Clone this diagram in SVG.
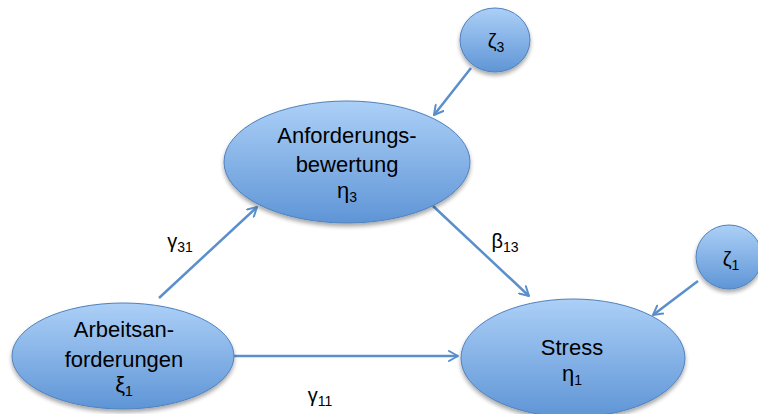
<svg xmlns="http://www.w3.org/2000/svg" width="758" height="414" viewBox="0 0 758 414">
  <defs>
    <linearGradient id="nodeFill" x1="0" y1="0" x2="0" y2="1">
      <stop offset="0" stop-color="#acd0f7"/>
      <stop offset="1" stop-color="#5f95d6"/>
    </linearGradient>
    <filter id="shadow" x="-20%" y="-20%" width="140%" height="150%">
      <feGaussianBlur in="SourceAlpha" stdDeviation="2"/>
      <feOffset dx="0" dy="2.5" result="b"/>
      <feComponentTransfer><feFuncA type="linear" slope="0.35"/></feComponentTransfer>
      <feMerge><feMergeNode/><feMergeNode in="SourceGraphic"/></feMerge>
    </filter>
    <marker id="arrow" viewBox="0 0 12 12" refX="10" refY="6" markerWidth="12" markerHeight="12" markerUnits="userSpaceOnUse" orient="auto">
      <path d="M1,1 L10,6 L1,11" fill="none" stroke="#5a8fcb" stroke-width="2" stroke-linecap="round" stroke-linejoin="round"/>
    </marker>
  </defs>
  <style>
    .node { fill: url(#nodeFill); stroke: #4f81bd; stroke-width: 1; filter: url(#shadow); }
    .lbl { font-family: "Liberation Sans", Arial, sans-serif; font-size: 22px; fill: #000; text-anchor: middle; }
    .coef { font-size: 20px; }
    .sub { font-size: 14px; }
    .edge { stroke: #5a8fcb; stroke-width: 2.5; fill: none; marker-end: url(#arrow); }
  </style>

  <rect width="758" height="414" fill="#ffffff"/>

  <!-- connectors -->
  <g id="connectors">
    <line class="edge" x1="471" y1="68" x2="434" y2="115"/>
    <line class="edge" x1="159" y1="298" x2="257" y2="207"/>
    <line class="edge" x1="433" y1="206" x2="529" y2="296"/>
    <line class="edge" x1="233" y1="356" x2="458" y2="356"/>
    <line class="edge" x1="698" y1="281" x2="653" y2="315"/>
  </g>

  <!-- path coefficients -->
  <g id="coefficients" class="lbl coef">
    <text x="180" y="248">γ<tspan class="sub" dy="4">31</tspan></text>
    <text x="505" y="248">β<tspan class="sub" dy="4">13</tspan></text>
    <text x="320" y="402">γ<tspan class="sub" dy="4">11</tspan></text>
  </g>

  <g id="zeta3">
    <ellipse class="node" cx="495" cy="40" rx="35" ry="32"/>
    <text class="lbl coef" x="496" y="48">ζ<tspan class="sub" dy="4">3</tspan></text>
  </g>

  <g id="zeta1">
    <ellipse class="node" cx="729" cy="257" rx="33" ry="32"/>
    <text class="lbl coef" x="731" y="266">ζ<tspan class="sub" dy="4">1</tspan></text>
  </g>

  <g id="eta3">
    <ellipse class="node" cx="347" cy="162" rx="123" ry="61"/>
    <text class="lbl" x="347" y="143">Anforderungs-</text>
    <text class="lbl" x="347" y="172">bewertung</text>
    <text class="lbl" x="347" y="198">η<tspan class="sub" dy="4">3</tspan></text>
  </g>

  <g id="xi1">
    <ellipse class="node" cx="123" cy="356" rx="111" ry="53"/>
    <text class="lbl" x="124" y="337">Arbeitsan-</text>
    <text class="lbl" x="124" y="367">forderungen</text>
    <text class="lbl" x="124" y="392">ξ<tspan class="sub" dy="4">1</tspan></text>
  </g>

  <g id="eta1">
    <ellipse class="node" cx="573" cy="358" rx="112" ry="59"/>
    <text class="lbl" x="572" y="355">Stress</text>
    <text class="lbl" x="572" y="381">η<tspan class="sub" dy="4">1</tspan></text>
  </g>
</svg>
